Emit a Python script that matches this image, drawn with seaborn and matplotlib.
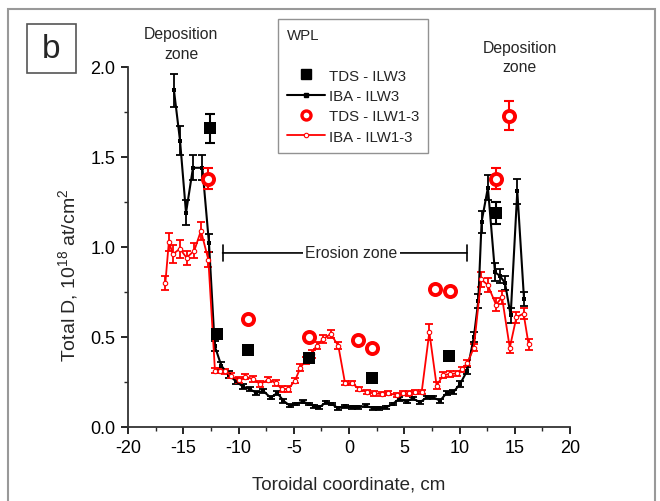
import numpy as np
import pandas as pd
import seaborn as sns
import matplotlib
matplotlib.use("Agg")
import matplotlib.pyplot as plt
from matplotlib.lines import Line2D
from matplotlib.patches import Rectangle
from matplotlib.ticker import MultipleLocator

# ---------------- data ----------------
iba3_x = [-15.84, -15.29, -14.75, -14.12, -13.27, -12.67, -12.15, -11.55, -10.9, -10.25,
          -9.62, -8.96, -8.4, -7.75, -7.1, -6.49, -5.94, -5.34, -4.8, -4.19,
          -3.59, -3.14, -2.69, -2.08, -1.57, -0.97, -0.36, 0.24, 0.84, 1.54,
          2.14, 2.75, 3.35, 3.95, 4.55, 5.22, 5.76, 6.43, 7.03, 7.63,
          8.24, 8.84, 9.44, 10.05, 10.7, 11.3, 11.7, 12.0, 12.57, 13.21,
          13.65, 14.12, 14.63, 15.23, 15.84]
iba3_y = [1.87, 1.59, 1.19, 1.44, 1.44, 1.02, 0.45, 0.34, 0.29, 0.255,
          0.225, 0.21, 0.19, 0.2, 0.163, 0.189, 0.146, 0.118, 0.128, 0.141,
          0.128, 0.115, 0.109, 0.137, 0.128, 0.104, 0.115, 0.109, 0.109, 0.118,
          0.104, 0.104, 0.109, 0.128, 0.156, 0.141, 0.159, 0.137, 0.165, 0.165,
          0.146, 0.189, 0.193, 0.239, 0.313, 0.50, 0.70, 1.14, 1.33, 0.86,
          0.84, 0.80, 0.62, 1.31, 0.71]
iba3_err = [0.09, 0.08, 0.07, 0.07, 0.07, 0.05, 0.03, 0.02, 0.02, 0.015,
            0.015, 0.012, 0.012, 0.012, 0.01, 0.01, 0.01, 0.008, 0.008, 0.008,
            0.008, 0.008, 0.008, 0.008, 0.008, 0.008, 0.008, 0.008, 0.008, 0.008,
            0.008, 0.008, 0.008, 0.008, 0.01, 0.01, 0.01, 0.01, 0.01, 0.01,
            0.01, 0.012, 0.012, 0.015, 0.02, 0.03, 0.04, 0.06, 0.07, 0.05,
            0.04, 0.04, 0.04, 0.07, 0.04]

iba13_x = [-16.62, -16.3, -15.95, -15.3, -14.7, -14.0, -13.4, -12.73, -12.13, -11.67,
           -11.2, -10.71, -10.0, -9.41, -8.72, -8.05, -7.3, -6.6, -6.1, -5.5,
           -4.89, -4.4, -3.9, -3.38, -2.93, -2.32, -1.66, -0.97, -0.36, 0.24,
           0.93, 1.6, 2.26, 2.96, 3.56, 4.3, 4.9, 5.4, 5.97, 6.58,
           7.27, 7.93, 8.53, 9.14, 9.74, 10.2, 10.7, 11.3, 11.95, 12.55,
           13.3, 13.85, 14.55, 15.15, 15.8, 16.25]
iba13_y = [0.80, 1.03, 0.96, 0.99, 0.94, 0.98, 1.09, 0.93, 0.313, 0.313,
           0.31, 0.285, 0.261, 0.28, 0.267, 0.239, 0.263, 0.244, 0.211, 0.211,
           0.257, 0.33, 0.37, 0.406, 0.452, 0.489, 0.517, 0.452, 0.244, 0.244,
           0.211, 0.193, 0.187, 0.183, 0.189, 0.176, 0.188, 0.187, 0.193, 0.196,
           0.526, 0.23, 0.289, 0.294, 0.298, 0.32, 0.355, 0.44, 0.82, 0.79,
           0.68, 0.72, 0.44, 0.61, 0.63, 0.46]
iba13_err = [0.04, 0.05, 0.05, 0.05, 0.04, 0.04, 0.05, 0.04, 0.015, 0.015,
             0.015, 0.015, 0.015, 0.015, 0.015, 0.015, 0.015, 0.015, 0.015, 0.015,
             0.015, 0.02, 0.02, 0.02, 0.02, 0.02, 0.02, 0.02, 0.012, 0.012,
             0.012, 0.012, 0.012, 0.012, 0.012, 0.012, 0.012, 0.012, 0.012, 0.012,
             0.045, 0.02, 0.015, 0.015, 0.015, 0.015, 0.015, 0.02, 0.04, 0.04,
             0.035, 0.035, 0.03, 0.03, 0.03, 0.03]

tds3_x = [-12.58, -11.97, -9.11, -3.59, 2.05, 9.08, 13.27]
tds3_y = [1.66, 0.515, 0.43, 0.385, 0.27, 0.395, 1.19]
tds3_err = [0.08, 0.015, 0.015, 0.015, 0.015, 0.015, 0.06]

tds13_x = [-12.73, -9.17, -3.59, 0.84, 2.05, 7.78, 9.14, 13.27, 14.51]
tds13_y = [1.38, 0.60, 0.50, 0.485, 0.44, 0.765, 0.755, 1.38, 1.73]
tds13_err = [0.06, 0.015, 0.015, 0.01, 0.01, 0.015, 0.015, 0.06, 0.08]

legend_labels = ["TDS - ILW3", "IBA - ILW3", "TDS - ILW1-3", "IBA - ILW1-3"]

# ---------------- style ----------------
sns.set_style("ticks")
plt.rcParams['font.family'] = ['Liberation Sans', 'DejaVu Sans']
plt.rcParams['mathtext.fontset'] = 'custom'
plt.rcParams['mathtext.rm'] = 'Liberation Sans'
plt.rcParams['mathtext.it'] = 'Liberation Sans:italic'

W, H = 660, 502
fig = plt.figure(figsize=(6.6, 5.02), dpi=100)
ax = fig.add_axes([128 / W, 1 - 428 / H, (570 - 128) / W, (428 - 68) / H])

RED = "#ff0000"

df3 = pd.DataFrame({"x": iba3_x, "y": iba3_y, "e": iba3_err})
df13 = pd.DataFrame({"x": iba13_x, "y": iba13_y, "e": iba13_err})
dft3 = pd.DataFrame({"x": tds3_x, "y": tds3_y, "e": tds3_err})
dft13 = pd.DataFrame({"x": tds13_x, "y": tds13_y, "e": tds13_err})

# IBA lines
ax.errorbar(df3.x, df3.y, yerr=df3.e, fmt="none", ecolor="black", elinewidth=1.3, capsize=3, capthick=1.3, zorder=2)
sns.lineplot(data=df3, x="x", y="y", sort=False, estimator=None, color="black", lw=1.5,
             marker="s", markersize=3, markeredgewidth=0, ax=ax, zorder=3)
ax.errorbar(df13.x, df13.y, yerr=df13.e, fmt="none", ecolor=RED, elinewidth=1.3, capsize=3, capthick=1.3, zorder=2)
sns.lineplot(data=df13, x="x", y="y", sort=False, estimator=None, color=RED, lw=1.3,
             marker="o", markersize=3.2, markerfacecolor="white", markeredgecolor=RED,
             markeredgewidth=0.8, ax=ax, zorder=3)

# TDS points
ax.errorbar(dft3.x, dft3.y, yerr=dft3.e, fmt="none", ecolor="black", elinewidth=1.5, capsize=3.5, capthick=1.5, zorder=4)
sns.scatterplot(data=dft3, x="x", y="y", marker="s", s=80, color="black", edgecolor="black", linewidth=0, ax=ax, zorder=5)
ax.errorbar(dft13.x, dft13.y, yerr=dft13.e, fmt="none", ecolor=RED, elinewidth=1.5, capsize=3.5, capthick=1.5, zorder=4)
ax.plot(dft13.x, dft13.y, ls="none", marker="o", markersize=8, markerfacecolor="white",
        markeredgecolor=RED, markeredgewidth=2.8, zorder=5)

# axes
ax.set_xlim(-20, 20)
ax.set_ylim(0, 2.0)
ax.xaxis.set_major_locator(MultipleLocator(5))
ax.xaxis.set_minor_locator(MultipleLocator(2.5))
ax.yaxis.set_major_locator(MultipleLocator(0.5))
ax.yaxis.set_minor_locator(MultipleLocator(0.25))
ax.yaxis.set_major_formatter(matplotlib.ticker.FormatStrFormatter("%.1f"))
ax.xaxis.set_major_formatter(matplotlib.ticker.FuncFormatter(lambda v, p: f"{int(round(v))}"))
ax.tick_params(which="major", direction="out", length=5, width=1.2, labelsize=13, colors="black", pad=4)
ax.tick_params(which="minor", direction="out", length=3, width=1.0)
for s in ["top", "right"]:
    ax.spines[s].set_visible(False)
for s in ["left", "bottom"]:
    ax.spines[s].set_linewidth(1.3)
    ax.spines[s].set_color("#333333")
ax.set_xlabel("Toroidal coordinate, cm", fontsize=13.5, labelpad=14)
ax.set_ylabel("Total D, 10$^{18}$ at/cm$^{2}$", fontsize=14)
ax.yaxis.set_label_coords(-0.108, 0.425)

# erosion zone bracket
ax.annotate("", xy=(-11.44, 0.967), xytext=(10.68, 0.967),
            arrowprops=dict(arrowstyle="|-|", lw=1.2, color="black", mutation_scale=6,
                            shrinkA=0, shrinkB=0), zorder=6)
ax.text(0.23, 0.967, "Erosion zone", ha="center", va="center", fontsize=11.3,
        bbox=dict(facecolor="white", edgecolor="none", pad=1.5), zorder=7)

# deposition zone texts
ax.text(-15.2, 2.13, "Deposition\nzone", ha="center", va="center", fontsize=11.3,
        linespacing=1.35, clip_on=False)
ax.text(15.45, 2.055, "Deposition\nzone", ha="center", va="center", fontsize=11.3,
        linespacing=1.35, clip_on=False)

# legend (blank first entry reproduces the gap under the title)
blank = Line2D([], [], ls="none", marker=None)
handles = [
    blank,
    Line2D([], [], ls="none", marker="s", markersize=7, color="black"),
    Line2D([], [], color="black", lw=1.5, marker="s", markersize=3),
    Line2D([], [], ls="none", marker="o", markersize=6.5, markerfacecolor="white",
           markeredgecolor=RED, markeredgewidth=2.4),
    Line2D([], [], color=RED, lw=1.3, marker="o", markersize=3.2, markerfacecolor="white",
           markeredgecolor=RED, markeredgewidth=0.8),
]
leg = ax.legend(handles, [" "] + legend_labels, title="WPL", loc="upper left",
                bbox_to_anchor=(278 / W, 1 - 20 / H), bbox_transform=fig.transFigure,
                borderaxespad=0, fontsize=10.8, title_fontsize=10.8, frameon=True, fancybox=False,
                edgecolor="#777777", handlelength=2.5, handletextpad=0.3,
                labelspacing=0.42, borderpad=0.6, alignment="left")
leg.get_frame().set_linewidth(1.0)

# panel label "b"
fig.patches.append(Rectangle((27 / W, 1 - 74 / H), 49 / W, 49 / H, transform=fig.transFigure,
                             fill=False, edgecolor="#555555", lw=1.2))
fig.text(51.5 / W, 1 - 50 / H, "b", ha="center", va="center", fontsize=24)

# outer frame
fig.patches.append(Rectangle((8 / W, -0.02), 647 / W, 1 - 10 / H + 0.02, transform=fig.transFigure,
                             fill=False, edgecolor="#999999", lw=1.5))

fig.savefig("out.png", dpi=100)
